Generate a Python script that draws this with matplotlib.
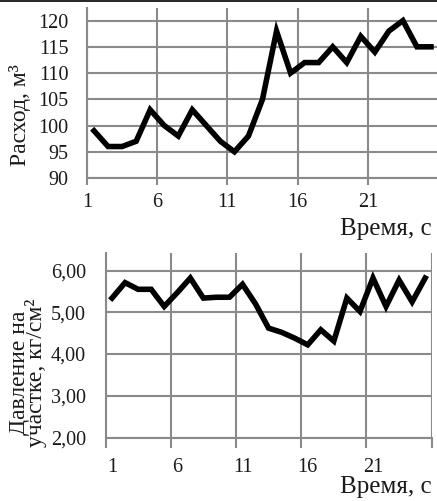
import matplotlib.pyplot as plt
from matplotlib.lines import Line2D
import numpy as np

# flow rate, m3 (upper chart)
time_s = np.arange(1, 26)
flow_m3 = [99, 96, 96, 97, 103, 100, 98, 103, 100, 97, 95, 98, 105, 118, 110,
           112, 112, 115, 112, 117, 114, 118, 120, 115, 115]

# section pressure, kg/cm2 (lower chart)
pressure = [5.34, 5.71, 5.55, 5.55, 5.14, 5.47, 5.82, 5.34, 5.36, 5.36, 5.67, 5.20,
            4.62, 4.52, 4.38, 4.22, 4.58, 4.31, 5.34, 5.02, 5.82, 5.14, 5.77, 5.25, 5.82]

xtick_labels = ["1", "6", "11", "16", "21"]
flow_ticks = [90, 95, 100, 105, 110, 115, 120]
pressure_ticks = [2.0, 3.0, 4.0, 5.0, 6.0]

W, H = 437, 501
GRID = "#8a8a8a"
TXT = "#1a1a1a"

plt.rcParams.update({
    "font.family": ["Liberation Serif", "DejaVu Serif"],
    "font.size": 14.5,
    "figure.facecolor": "white",
})


def box(left, top, right, bottom):
    return [left / W, 1 - bottom / H, (right - left) / W, (bottom - top) / H]


def polish(ax):
    for side in ("top", "right"):
        ax.spines[side].set_visible(False)
    for side in ("left", "bottom"):
        ax.spines[side].set_color(GRID)
        ax.spines[side].set_linewidth(1.5)
    ax.set_axisbelow(True)


fig = plt.figure(figsize=(W / 100, H / 100), dpi=100)
fig.add_artist(Line2D([0, 1], [1 - 0.6 / H, 1 - 0.6 / H], color="black", lw=1.2,
                      transform=fig.transFigure))

# upper chart
ax1 = fig.add_axes(box(87, 8, 438, 178))
ax1.plot(time_s, flow_m3, color="black", lw=4.0, solid_joinstyle="miter")
ax1.set_xlim(0.5, 25.5)
ax1.set_ylim(90, 122.4)
ax1.set_yticks(flow_ticks)
ax1.set_xticks(np.arange(0.5, 21, 5))
ax1.set_xticklabels(xtick_labels)
ax1.tick_params(axis="y", length=0, pad=13.5, colors=TXT)
ax1.tick_params(axis="x", length=5, width=1.5, color=GRID, pad=6, labelcolor=TXT)
ax1.grid(True, color=GRID, lw=1.5)
polish(ax1)

# lower chart
ax2 = fig.add_axes(box(105.5, 253, 431.7, 437.5))
ax2.plot(time_s, pressure, color="black", lw=4.0, solid_joinstyle="miter")
ax2.set_xlim(0.5, 25.5)
ax2.set_ylim(2.0, 6.42)
ax2.set_yticks(pressure_ticks)
ax2.set_yticklabels([f"{v:.2f}".replace(".", ",") for v in pressure_ticks])
ax2.set_xticks(np.arange(1, 22, 5))
ax2.set_xticklabels(xtick_labels)
ax2.set_xticks(np.arange(0.5, 26, 5), minor=True)
ax2.tick_params(axis="y", length=0, pad=14, colors=TXT)
ax2.tick_params(axis="x", which="major", length=0, pad=15, labelcolor=TXT)
ax2.tick_params(axis="x", which="minor", length=7.5, width=1.5, color=GRID)
ax2.grid(True, axis="y", color=GRID, lw=1.5)
ax2.grid(True, axis="x", which="minor", color=GRID, lw=1.5)
polish(ax2)

# axis titles
fig.text(20 / W, 1 - 115 / H, "Расход, м³", rotation=90, ha="center", va="center",
         color=TXT, fontsize=17)
fig.text(28 / W, 1 - 373 / H, "Давление на\nучастке, кг/см²", rotation=90,
         ha="center", va="center", multialignment="center", linespacing=0.72,
         color=TXT, fontsize=17)
fig.text(432 / W, 1 - 235.5 / H, "Время, с", ha="right", va="baseline", color=TXT, fontsize=18)
fig.text(432 / W, 1 - 493 / H, "Время, с", ha="right", va="baseline", color=TXT, fontsize=18)

fig.savefig("out.png", dpi=100)
